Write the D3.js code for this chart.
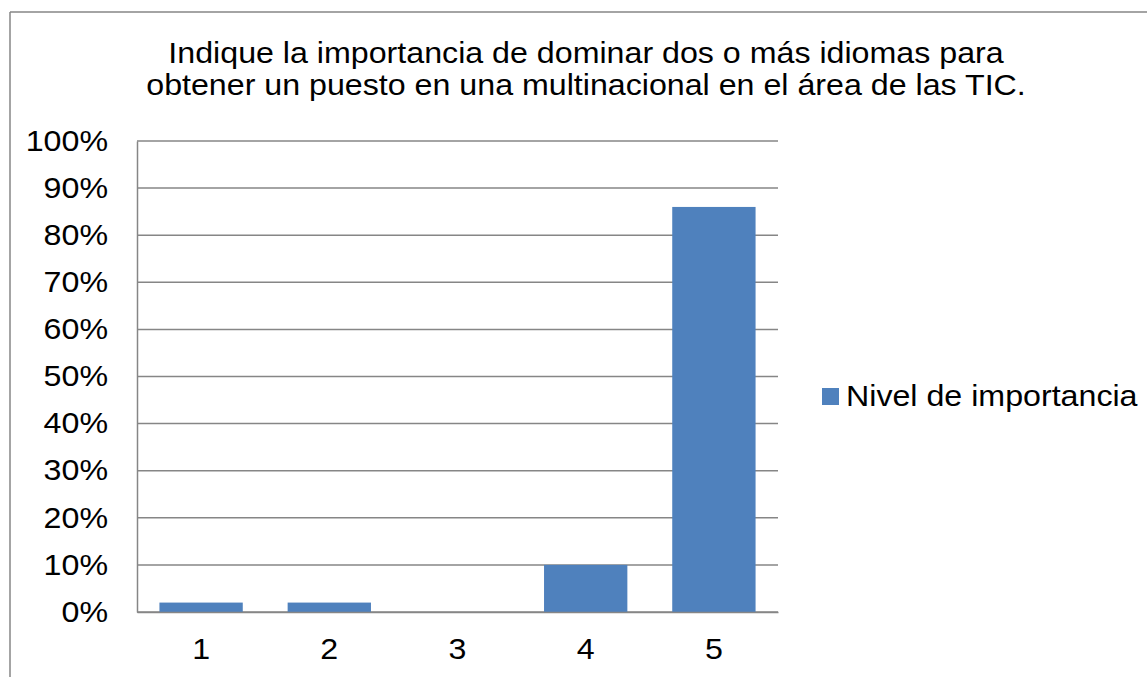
<!DOCTYPE html>
<html>
<head>
<meta charset="utf-8">
<script src="https://cdnjs.cloudflare.com/ajax/libs/d3/7.8.5/d3.min.js"></script>
<style>
  html, body { margin: 0; padding: 0; background: #fff; }
  svg { display: block; }
  text { font-family: "Liberation Sans", Arial, sans-serif; fill: #000; }
</style>
</head>
<body>
<svg id="chart" width="1147" height="677"></svg>
<script>
const categories = ["1", "2", "3", "4", "5"];
const values = [0.02, 0.02, 0, 0.10, 0.86];
const yTicks = [0, 0.1, 0.2, 0.3, 0.4, 0.5, 0.6, 0.7, 0.8, 0.9, 1.0];
const titleLines = [
  "Indique la importancia de dominar dos o más idiomas para",
  "obtener un puesto en una multinacional en el área de las TIC."
];
const seriesName = "Nivel de importancia";
const barColor = "#4F81BD";
const gridColor = "#868686";

const FS = 29;      // font size
const SX = 1.11;    // horizontal stretch of the original picture

const svg = d3.select("#chart");
const plot = { left: 137, right: 778, top: 141, bottom: 612 };

// outer chart border (top and left visible)
svg.append("line").attr("x1", 10).attr("x2", 1147).attr("y1", 12).attr("y2", 12)
  .attr("stroke", gridColor).attr("stroke-width", 1.5);
svg.append("line").attr("x1", 10).attr("x2", 10).attr("y1", 12).attr("y2", 677)
  .attr("stroke", gridColor).attr("stroke-width", 1.5);

// title
titleLines.forEach((t, i) => {
  svg.append("text").attr("text-anchor", "middle").attr("font-size", FS)
    .attr("transform", `translate(586,${63 + i * 32}) scale(${SX},1)`)
    .text(t);
});

const x = d3.scaleBand().domain(categories).range([plot.left, plot.right]).paddingInner(0.35).paddingOuter(0.175);
const y = d3.scaleLinear().domain([0, 1]).range([plot.bottom, plot.top]);

// gridlines
svg.append("g").selectAll("line").data(yTicks).join("line")
  .attr("x1", plot.left).attr("x2", plot.right)
  .attr("y1", d => y(d)).attr("y2", d => y(d))
  .attr("stroke", gridColor).attr("stroke-width", 1.5);

// y axis
const yAxis = svg.append("g").attr("transform", `translate(${plot.left},0)`)
  .call(d3.axisLeft(y).tickValues(yTicks).tickFormat(d3.format(".0%")).tickSize(0).tickPadding(29));
yAxis.select(".domain").attr("stroke", gridColor).attr("stroke-width", 1.5);
yAxis.selectAll("text").attr("font-size", FS).attr("font-family", "Liberation Sans, Arial, sans-serif")
  .attr("x", 0).attr("transform", `translate(-29,0) scale(${SX},1)`);

// bars
svg.append("g").selectAll("rect").data(values).join("rect")
  .attr("x", (d, i) => x(categories[i]))
  .attr("width", x.bandwidth())
  .attr("y", d => y(d))
  .attr("height", d => y(0) - y(d))
  .attr("fill", barColor);

// x axis
const xAxis = svg.append("g").attr("transform", `translate(0,${plot.bottom})`)
  .call(d3.axisBottom(x).tickSize(0).tickPadding(26));
xAxis.select(".domain").attr("stroke", gridColor).attr("stroke-width", 1.5);
xAxis.selectAll("text").attr("font-size", FS).attr("font-family", "Liberation Sans, Arial, sans-serif")
  .attr("transform", `scale(${SX},1)`).attr("x", 0);

// legend
const legend = svg.append("g");
legend.append("rect").attr("x", 822).attr("y", 388).attr("width", 17).attr("height", 17).attr("fill", barColor);
legend.append("text").attr("font-size", FS)
  .attr("transform", `translate(846,406) scale(${SX},1)`).text(seriesName);
</script>
</body>
</html>
